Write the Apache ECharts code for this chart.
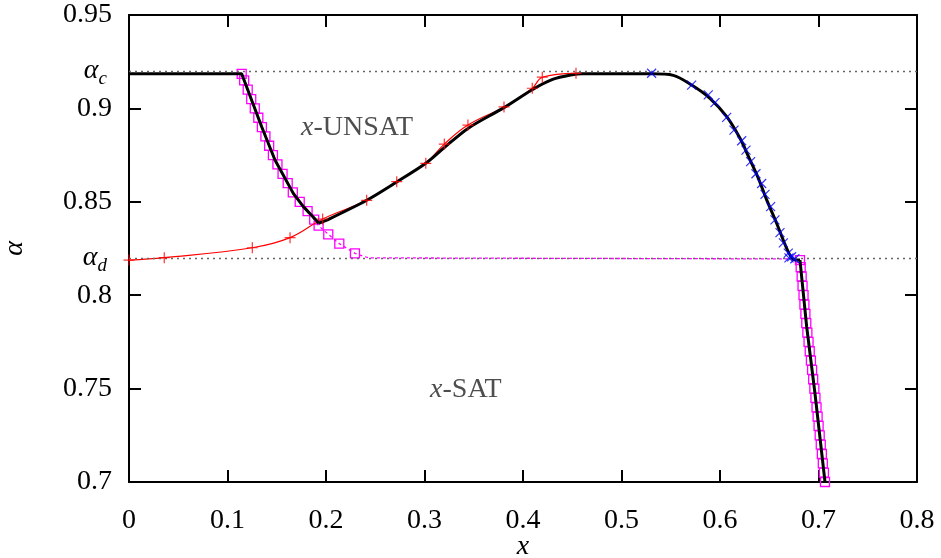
<!DOCTYPE html>
<html>
<head>
<meta charset="utf-8">
<script src="https://cdn.jsdelivr.net/npm/echarts@6/dist/echarts.min.js"></script>
<style>
  html, body { margin: 0; background: #fff; }
  #chart { width: 941px; height: 558px; }
</style>
</head>
<body>
<div id="chart"></div>
<script>
// thresholds
const alphaC = 0.9185;
const alphaD = 0.8188;

// axis ticks
const xTicks = [0, 0.1, 0.2, 0.3, 0.4, 0.5, 0.6, 0.7, 0.8];
const yTicks = [0.7, 0.75, 0.8, 0.85, 0.9, 0.95];

// black phase boundary, in three pieces
const boundaryLeft = [
  [0, 0.9185], [0.1144, 0.9185], [0.1347, 0.8902], [0.1482, 0.8724], [0.1668, 0.8545],
  [0.1770, 0.8474], [0.1898, 0.8403], [0.1925, 0.8385]
];
const boundaryMid = [
  [0.1925, 0.8385], [0.2041, 0.8410], [0.2413, 0.8508], [0.2718, 0.8606], [0.3013, 0.8706],
  [0.3201, 0.8790], [0.3441, 0.8893], [0.3807, 0.9004], [0.4094, 0.9100], [0.4300, 0.9155],
  [0.4500, 0.9180], [0.4600, 0.9185], [0.5306, 0.9185], [0.5526, 0.9177], [0.5712, 0.9125],
  [0.5898, 0.9054], [0.6068, 0.8956], [0.6203, 0.8840], [0.6305, 0.8724], [0.6389, 0.8626],
  [0.6474, 0.8510], [0.6575, 0.8385], [0.6677, 0.8251], [0.6744, 0.8192], [0.6812, 0.8188]
];
const boundaryRight = [
  [0.6812, 0.8188], [0.6880, 0.7831], [0.6964, 0.7475], [0.7066, 0.7000]
];

// red +
const plusPts = [
  [0, 0.8188], [0.0358, 0.8201], [0.1252, 0.8254], [0.1635, 0.8308], [0.1966, 0.8408],
  [0.2413, 0.8508], [0.2718, 0.8608], [0.3013, 0.8706], [0.3201, 0.8809], [0.3441, 0.8911],
  [0.3807, 0.9008], [0.4094, 0.9108], [0.4196, 0.9167], [0.4538, 0.9188]
];

// blue x
const crossPts = [
  [0.5306, 0.9188], [0.5712, 0.9125], [0.5881, 0.9072], [0.5949, 0.9031], [0.6068, 0.8952],
  [0.6142, 0.8884], [0.6220, 0.8827], [0.6264, 0.8777], [0.6311, 0.8715], [0.6365, 0.8650],
  [0.6423, 0.8598], [0.6457, 0.8540], [0.6514, 0.8474], [0.6558, 0.8403], [0.6609, 0.8335],
  [0.6643, 0.8280], [0.6693, 0.8225], [0.6727, 0.8206], [0.6760, 0.8195], [0.6700, 0.8200]
];

// magenta squares
const squaresLeft = [
  [0.1144, 0.9185], [0.1169, 0.915], [0.1205, 0.910], [0.1241, 0.905], [0.1277, 0.900],
  [0.1313, 0.895], [0.1349, 0.890], [0.1385, 0.885], [0.1423, 0.880], [0.1461, 0.875],
  [0.1507, 0.870], [0.1559, 0.865], [0.1611, 0.860], [0.1663, 0.855], [0.1733, 0.850],
  [0.1813, 0.845], [0.1880, 0.8405], [0.1925, 0.8372], [0.2023, 0.8326], [0.2135, 0.8276],
  [0.2294, 0.8224]
];
const squaresFlat = [[0.2430, 0.8200], [0.6744, 0.8194]];
const squaresRight = [
  [0.6812, 0.8188], [0.6819, 0.815], [0.6829, 0.810], [0.6838, 0.805], [0.6848, 0.800],
  [0.6857, 0.795], [0.6867, 0.790], [0.6876, 0.785], [0.6887, 0.780], [0.6899, 0.775],
  [0.6911, 0.770], [0.6923, 0.765], [0.6935, 0.760], [0.6946, 0.755], [0.6958, 0.750],
  [0.6969, 0.745], [0.6980, 0.740], [0.6991, 0.735], [0.7001, 0.730], [0.7012, 0.725],
  [0.7023, 0.720], [0.7034, 0.715], [0.7044, 0.710], [0.7055, 0.705], [0.7066, 0.700]
];

// region labels
const regionLabels = [
  { name: 'UNSAT', value: [0.2315, 0.8895] },
  { name: 'SAT', value: [0.342, 0.7493] }
];

const serif = "Liberation Serif";
const fmt = (v) => String(Math.round(v * 1000) / 1000);

const chart = echarts.init(document.getElementById('chart'));

const squareData = squaresLeft
  .concat(squaresFlat.map((p) => ({ value: p, symbol: 'none' })))
  .concat(squaresRight);

const frameAxis = {
  axisLine: { show: true, onZero: false, lineStyle: { color: '#000', width: 2 } },
  axisTick: { show: true, inside: true, length: 12, lineStyle: { color: '#000', width: 2 } },
  splitLine: { show: false }
};

const boundaryLine = (data, smooth) => ({
  type: 'line', data: data, symbol: 'none', smooth: smooth,
  lineStyle: { color: '#000', width: 3 }, z: 4
});

chart.setOption({
  animation: false,
  backgroundColor: '#fff',
  grid: { left: 129, right: 24, top: 15, bottom: 76, outerBoundsMode: 'none', containLabel: false },
  xAxis: [
    Object.assign({
      type: 'value', min: xTicks[0], max: xTicks[xTicks.length - 1], interval: 0.1,
      name: 'x', nameLocation: 'middle', nameGap: 51, nameMoveOverlap: false,
      nameTextStyle: { fontFamily: serif, fontStyle: 'italic', fontSize: 28, color: '#000', verticalAlign: 'top', lineHeight: 28 },
      axisLabel: { fontFamily: serif, fontSize: 28, color: '#000', margin: 25, formatter: fmt }
    }, frameAxis),
    Object.assign({
      type: 'value', position: 'top', min: xTicks[0], max: xTicks[xTicks.length - 1], interval: 0.1,
      axisLabel: { show: false }
    }, frameAxis)
  ],
  yAxis: [
    Object.assign({
      type: 'value', min: yTicks[0], max: yTicks[yTicks.length - 1], interval: 0.05,
      name: 'α', nameLocation: 'middle', nameGap: 100, nameRotate: 90, nameMoveOverlap: false,
      nameTextStyle: { fontFamily: serif, fontStyle: 'italic', fontSize: 28, color: '#000' },
      axisLabel: { fontFamily: serif, fontSize: 28, color: '#000', margin: 17, formatter: fmt }
    }, frameAxis),
    Object.assign({
      type: 'value', position: 'right', min: yTicks[0], max: yTicks[yTicks.length - 1], interval: 0.05,
      axisLabel: { show: false }
    }, frameAxis)
  ],
  series: [
    {
      type: 'line', data: [], symbol: 'none', silent: true,
      markLine: {
        silent: true, symbol: 'none',
        lineStyle: { color: '#666', type: [2, 4], width: 1.3 },
        label: {
          show: true, position: 'start', distance: 22,
          formatter: (p) => '{a|α}{s|' + p.name + '}',
          rich: {
            a: { fontFamily: serif, fontStyle: 'italic', fontSize: 28, color: '#000' },
            s: { fontFamily: serif, fontStyle: 'italic', fontSize: 19, color: '#000', padding: [16, 0, 0, 0] }
          }
        },
        data: [{ yAxis: alphaC, name: 'c' }, { yAxis: alphaD, name: 'd' }]
      }
    },
    {
      type: 'line', data: squareData, symbol: 'rect', symbolSize: 9, showAllSymbol: true,
      lineStyle: { color: '#ff00ff', width: 1.3, type: [3, 3] },
      itemStyle: { color: 'rgba(0,0,0,0)', borderColor: '#ff00ff', borderWidth: 1.3 },
      z: 2
    },
    {
      type: 'line', data: plusPts, smooth: 0.4, symbol: 'none',
      lineStyle: { color: '#ff0000', width: 1.2 }, z: 3
    },
    boundaryLine(boundaryLeft, false),
    boundaryLine(boundaryMid, 0.3),
    boundaryLine(boundaryRight, false),
    {
      type: 'scatter', data: plusPts, symbol: 'path://M5,0L5,10M0,5L10,5', symbolSize: 11,
      itemStyle: { color: 'rgba(0,0,0,0)', borderColor: '#ff0000', borderWidth: 1.2 }, z: 5
    },
    {
      type: 'scatter', data: crossPts, symbol: 'path://M0,0L10,10M10,0L0,10', symbolSize: 9,
      itemStyle: { color: 'rgba(0,0,0,0)', borderColor: '#0000ff', borderWidth: 1.2 }, z: 5
    },
    {
      type: 'scatter', data: regionLabels, symbolSize: 0, z: 6,
      label: {
        show: true, position: 'inside',
        formatter: (p) => '{i|x}{t|-' + p.name + '}',
        rich: {
          i: { fontFamily: serif, fontStyle: 'italic', fontSize: 28, color: '#222' },
          t: { fontFamily: serif, fontSize: 28, color: '#222' }
        }
      }
    }
  ]
});
</script>
</body>
</html>
